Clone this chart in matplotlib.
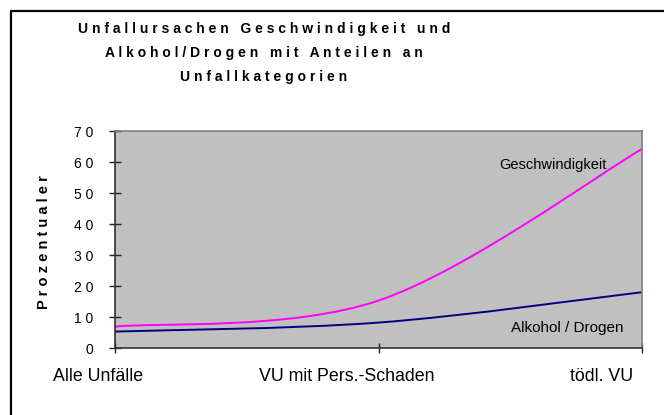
import matplotlib
matplotlib.use("Agg")
import matplotlib.pyplot as plt
from matplotlib.path import Path
from matplotlib.patches import PathPatch
from matplotlib.lines import Line2D

plt.rcParams['font.family'] = ['Liberation Sans', 'DejaVu Sans']

# ---- data ----
categories = ["Alle Unfälle", "VU mit Pers.-Schaden", "tödl. VU"]
geschwindigkeit = [6.9, 15.3, 64.2]
alkohol_drogen = [5.3, 8.2, 18.0]
yticks = [0, 10, 20, 30, 40, 50, 60, 70]
title_lines = ["Unfallursachen Geschwindigkeit und",
               "Alkohol/Drogen mit Anteilen an",
               "Unfallkategorien"]
ylabel = "Prozentualer"
label_geschw = "Geschwindigkeit"
label_alk = "Alkohol / Drogen"


def spaced(s):
    return " ".join(s)


def smooth_path(xs, ys):
    # Excel-style smoothed line (cubic Bezier through the data points)
    n = len(xs)
    pts = list(zip(xs, ys))
    verts = [pts[0]]
    codes = [Path.MOVETO]
    for i in range(n - 1):
        p_prev = pts[i - 1] if i > 0 else pts[i]
        p0 = pts[i]
        p1 = pts[i + 1]
        p_next = pts[i + 2] if i + 2 < n else pts[i + 1]
        c1 = (p0[0] + (p1[0] - p_prev[0]) / 6.0, p0[1] + (p1[1] - p_prev[1]) / 6.0)
        c2 = (p1[0] - (p_next[0] - p0[0]) / 6.0, p1[1] - (p_next[1] - p0[1]) / 6.0)
        verts += [c1, c2, p1]
        codes += [Path.CURVE4] * 3
    return Path(verts, codes)


W, H = 664, 415
fig = plt.figure(figsize=(W / 100, H / 100), dpi=100)
fig.patch.set_facecolor("white")

# outer chart border (left and top visible)
fig.add_artist(Line2D([11 / W, 11 / W, 1.0], [0.0, 1 - 11 / H, 1 - 11 / H],
                      transform=fig.transFigure, color="black", lw=1.6))

left, right, top, bottom = 115, 642, 131, 348
ax = fig.add_axes([left / W, 1 - bottom / H, (right - left) / W, (bottom - top) / H])
ax.set_facecolor("#C0C0C0")

xs = list(range(len(categories)))
ax.add_patch(PathPatch(smooth_path(xs, geschwindigkeit), fill=False,
                       edgecolor="#FF00FF", lw=1.4))
ax.add_patch(PathPatch(smooth_path(xs, alkohol_drogen), fill=False,
                       edgecolor="#000080", lw=1.4))

ax.set_xlim(0, len(categories) - 1)
ax.set_ylim(0, 70)

ax.set_yticks(yticks)
ax.set_yticklabels([spaced(str(v)) for v in yticks], fontsize=10)
ax.set_xticks(xs)
ax.set_xticklabels([""] * len(xs))
ax.tick_params(axis="y", direction="inout", length=9, width=1, color="#222222", pad=11)
ax.tick_params(axis="x", direction="inout", length=7, width=1, color="#222222")

for s in ["top", "right"]:
    ax.spines[s].set_color("#808080")
    ax.spines[s].set_linewidth(1.2)
for s in ["left", "bottom"]:
    ax.spines[s].set_color("#333333")
    ax.spines[s].set_linewidth(1.2)

# category labels
offsets = [-0.065, -0.12, -0.152]
for i, (cat, off) in enumerate(zip(categories, offsets)):
    ax.text(i + off, -0.13, cat, transform=ax.get_xaxis_transform(),
            ha="center", va="center", fontsize=12.8, color="black")

# series labels
ax.text(1.662, 59.0, label_geschw, ha="center", va="center", fontsize=10.5)
ax.text(1.715, 6.5, label_alk, ha="center", va="center", fontsize=11)

# title
for y, line in zip([29, 53, 77], title_lines):
    fig.text(264 / W, 1 - y / H, spaced(line), ha="center", va="center",
             fontsize=10, fontweight="bold")

# y label
fig.text(44 / W, 1 - 242 / H, spaced(ylabel), rotation=90, ha="center",
         va="center", fontsize=10.5, fontweight="bold")

fig.savefig("out.png", dpi=100)
